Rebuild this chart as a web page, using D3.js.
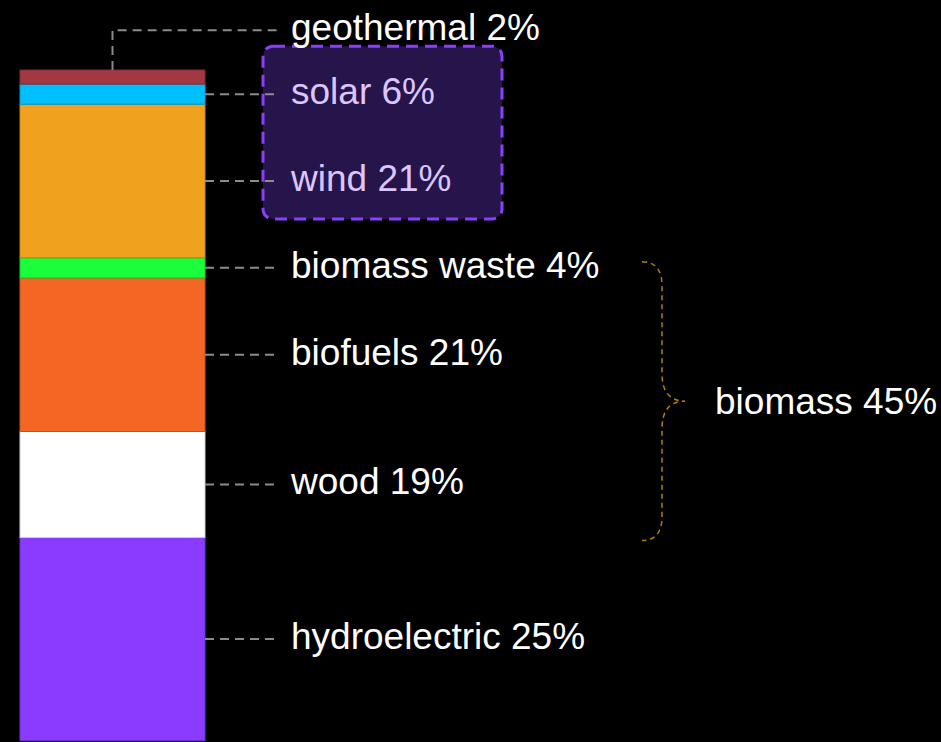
<!DOCTYPE html>
<html>
<head>
<meta charset="utf-8">
<script src="https://cdn.jsdelivr.net/npm/d3@7"></script>
<style>
  html, body { margin: 0; padding: 0; background: #000; }
  svg { display: block; }
  text { font-family: "Liberation Sans", Arial, sans-serif; }
</style>
</head>
<body>
<svg id="chart" width="941" height="742"></svg>
<script>
// ---- data (bottom to top) ----
const categories = ["hydroelectric", "wood", "biofuels", "biomass waste", "wind", "solar", "geothermal"];
const segmentValues = [30.3, 15.8, 22.9, 3.0, 22.9, 3.0, 2.1];   // drawn segment sizes
const labelPercents = [25, 19, 21, 4, 21, 6, 2];                 // percentages printed in labels
const colors = ["#8a3bff", "#ffffff", "#f46624", "#1aff3c", "#f0a21e", "#00bfff", "#a33843"];
const highlighted = ["solar", "wind"];
const groupName = "biomass";
const groupMembers = ["biomass waste", "biofuels", "wood"];
const groupPercent = 45;

const svg = d3.select("#chart");

const total = d3.sum(segmentValues);
const y = d3.scaleLinear().domain([0, total]).range([740.7, 70]);
const x0 = 20, x1 = 205;

// stacked data
let acc = 0;
const segs = categories.map((c, i) => {
  const d = { name: c, value: segmentValues[i], pct: labelPercents[i], color: colors[i], y0: acc, y1: acc + segmentValues[i] };
  acc += segmentValues[i];
  d.mid = (y(d.y0) + y(d.y1)) / 2;
  return d;
});

// label positions with collision avoidance (bottom to top)
const gap = 64;
let prev = Infinity;
segs.forEach(d => {
  d.ly = Math.min(d.mid, prev - gap);
  prev = d.ly;
});

const labelX = 291;
const connEnd = 279;
const fontSize = 37;

// highlight box (behind connectors/text)
const hl = segs.filter(d => highlighted.includes(d.name));
const hlTop = d3.min(hl, d => d.ly) - 48;
const hlBot = d3.max(hl, d => d.ly) + 38;
svg.append("rect")
  .attr("x", 263).attr("y", hlTop)
  .attr("width", 239).attr("height", hlBot - hlTop)
  .attr("rx", 10).attr("ry", 10)
  .attr("fill", "#26154a")
  .attr("stroke", "#8a3ffc")
  .attr("stroke-width", 3)
  .attr("stroke-dasharray", "12 7");

// bar segments
svg.append("g").selectAll("rect").data(segs).join("rect")
  .attr("x", x0)
  .attr("y", d => y(d.y1))
  .attr("width", x1 - x0)
  .attr("height", d => y(d.y0) - y(d.y1))
  .attr("fill", d => d.color)
  .attr("stroke", d => d3.color(d.color).darker(0.6))
  .attr("stroke-width", 1);

// connectors
svg.append("g").selectAll("path").data(segs).join("path")
  .attr("d", d => {
    if (Math.abs(d.ly - d.mid) < 0.5) return `M${x1},${d.mid}H${connEnd}`;
    const top = y(d.y1);
    const cx = (x0 + x1) / 2;
    return `M${cx},${top}V${d.ly}H${connEnd}`;
  })
  .attr("fill", "none")
  .attr("stroke", "#8c8c8c")
  .attr("stroke-width", 2)
  .attr("stroke-dasharray", "9 6");

// labels
svg.append("g").selectAll("text").data(segs).join("text")
  .attr("x", labelX)
  .attr("y", d => d.ly + 10)
  .attr("font-size", fontSize)
  .attr("fill", d => highlighted.includes(d.name) ? "#dcc6ff" : "#ffffff")
  .text(d => `${d.name} ${d.pct}%`);

// group brace
const gm = segs.filter(d => groupMembers.includes(d.name));
const by0 = d3.min(gm, d => y(d.y1)) + 4;
const by1 = d3.max(gm, d => y(d.y0)) + 3;
const bym = (by0 + by1) / 2;
const bx0 = 642, bx1 = 662, bxt = 685;
svg.append("path")
  .attr("d", `M${bx0},${by0} Q${bx1},${by0} ${bx1},${by0 + 24} L${bx1},${bym - 28} Q${bx1},${bym} ${bxt},${bym} Q${bx1},${bym} ${bx1},${bym + 28} L${bx1},${by1 - 24} Q${bx1},${by1} ${bx0},${by1}`)
  .attr("fill", "none")
  .attr("stroke", "#b07c12")
  .attr("stroke-width", 1.5)
  .attr("stroke-dasharray", "5 4");

svg.append("text")
  .attr("x", 715)
  .attr("y", bym + 13)
  .attr("font-size", fontSize)
  .attr("fill", "#ffffff")
  .text(`${groupName} ${groupPercent}%`);
</script>
</body>
</html>
